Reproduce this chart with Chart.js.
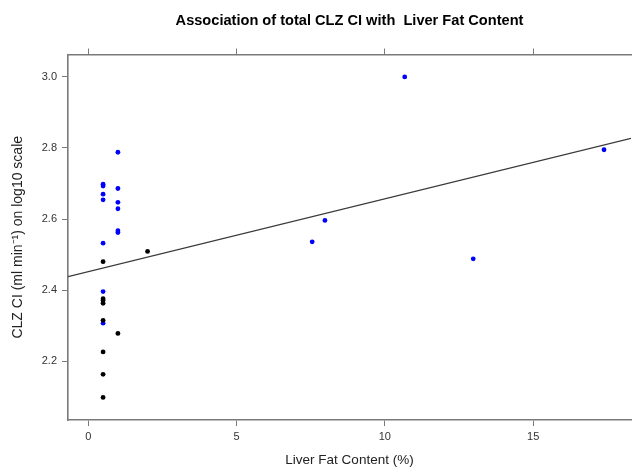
<!DOCTYPE html>
<html>
<head>
<meta charset="utf-8">
<script src="https://cdn.jsdelivr.net/npm/chart.js@4/dist/chart.umd.min.js"></script>
<style>
    html, body { margin: 0; padding: 0; background: #fff; overflow: hidden; }
    #wrap { width: 635px; height: 469px; }
</style>
</head>
<body>
<div id="wrap"><canvas id="scatter"></canvas></div>
<script>
// ============================================================
// DATA
// ============================================================
const blackX = [0.5, 2.0, 0.5, 0.5, 0.5, 0.5, 1.0, 0.5, 0.5, 0.5];
const blackY = [2.480, 2.509, 2.376, 2.371, 2.363, 2.315, 2.278, 2.226, 2.163, 2.098];

const blueX = [1.0, 0.5, 0.5, 0.5, 0.5, 1.0, 1.0, 1.0, 1.0, 1.0, 0.5, 0.5, 0.5, 7.98, 7.55, 10.67, 12.98, 17.39];
const blueY = [2.788, 2.698, 2.693, 2.670, 2.654, 2.686, 2.647, 2.629, 2.567, 2.562, 2.532, 2.396, 2.307, 2.596, 2.536, 3.0, 2.488, 2.795];

// regression line end points (edge to edge of the panel)
const fitX = [-0.683, 18.30];
const fitY = [2.438, 2.827];

const xTicks = [0, 5, 10, 15];
const yTicks = [2.2, 2.4, 2.6, 2.8, 3.0];

const titleText = 'Association of total CLZ CI with  Liver Fat Content';
const xTitle = 'Liver Fat Content (%)';
const yTitle = 'CLZ CI (ml min\u207B\u00B9) on log10 scale';

// ============================================================
// HELPERS
// ============================================================
const FONT = "'Liberation Sans Narrow', 'Liberation Sans', Arial, sans-serif";
const AXIS = '#7a7a7a';

function toPoints(xs, ys) {
    return xs.map((x, i) => ({ x: x, y: ys[i] }));
}

function fixTicks(values) {
    return scale => { scale.ticks = values.map(v => ({ value: v })); };
}

// ============================================================
// CHART
// ============================================================
new Chart(document.getElementById('scatter').getContext('2d'), {
    type: 'scatter',
    data: {
        datasets: [
            {
                label: 'fit',
                type: 'line',
                data: toPoints(fitX, fitY),
                borderColor: '#3a3a3a',
                borderWidth: 1.3,
                pointRadius: 0,
                fill: false
            },
            {
                label: 'group 1',
                data: toPoints(blackX, blackY),
                backgroundColor: '#000000',
                borderWidth: 0,
                pointRadius: 2.4
            },
            {
                label: 'group 2',
                data: toPoints(blueX, blueY),
                backgroundColor: '#0000ff',
                borderWidth: 0,
                pointRadius: 2.4
            }
        ]
    },
    options: {
        responsive: true,
        maintainAspectRatio: false,
        animation: false,
        layout: { padding: 0 },
        plugins: {
            legend: { display: false },
            tooltip: { enabled: false },
            title: {
                display: true,
                text: titleText,
                fullSize: false,
                color: '#000',
                font: { family: FONT, size: 14.6, weight: 'bold' },
                padding: { top: 12, bottom: 4 }
            }
        },
        scales: {
            x: {
                type: 'linear',
                position: 'bottom',
                min: fitX[0],
                max: fitX[1],
                afterBuildTicks: fixTicks(xTicks),
                afterFit: s => { s.height = 49; },
                grid: { display: true, drawOnChartArea: false, drawTicks: true, tickLength: 6, color: AXIS, lineWidth: 1 },
                border: { display: true, color: AXIS, width: 1.6 },
                ticks: { color: '#333', font: { family: FONT, size: 11 }, padding: 4, maxRotation: 0 },
                title: { display: true, text: xTitle, color: '#222', font: { family: FONT, size: 13.5 }, padding: { top: 0, bottom: 1 } }
            },
            x2: {
                type: 'linear',
                position: 'top',
                min: fitX[0],
                max: fitX[1],
                afterBuildTicks: fixTicks(xTicks),
                afterFit: s => { s.height = 21; },
                grid: { display: true, drawOnChartArea: false, drawTicks: true, tickLength: 6, color: AXIS, lineWidth: 1 },
                border: { display: true, color: AXIS, width: 1.6 },
                ticks: { display: false }
            },
            y: {
                type: 'linear',
                position: 'left',
                min: 2.0345,
                max: 3.063,
                afterBuildTicks: fixTicks(yTicks),
                afterFit: s => { s.width = 68; },
                grid: { display: true, drawOnChartArea: false, drawTicks: true, tickLength: 6, color: AXIS, lineWidth: 1 },
                border: { display: true, color: AXIS, width: 1.6 },
                ticks: { color: '#333', font: { family: FONT, size: 11 }, padding: 5, callback: v => v.toFixed(1) },
                title: { display: true, text: yTitle, color: '#222', font: { family: FONT, size: 14 }, padding: { top: 10, bottom: 0 } }
            }
        }
    }
});
</script>
</body>
</html>
